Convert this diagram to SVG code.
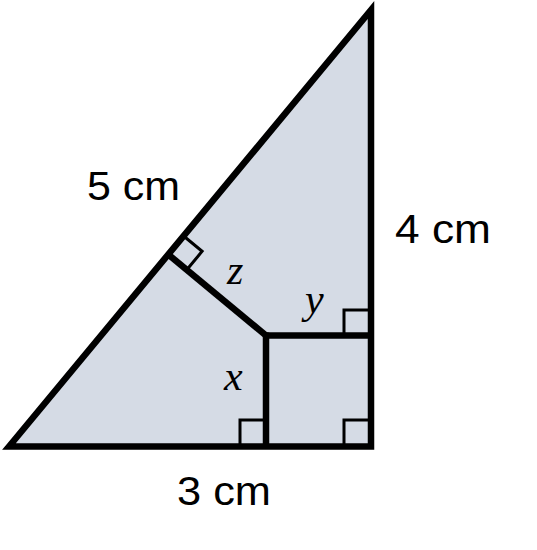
<svg xmlns="http://www.w3.org/2000/svg" width="537" height="550" viewBox="0 0 537 550">
<style>
.edge{fill:none;stroke:#000;stroke-width:6.5;stroke-linejoin:miter;stroke-miterlimit:10}
.tri{fill:#d5dbe5;stroke:#000;stroke-width:6.5;stroke-linejoin:miter;stroke-miterlimit:10}
.mark{fill:none;stroke:#000;stroke-width:3}
.lbl{font-family:"Liberation Sans",Arial,sans-serif;font-size:41px;fill:#000}
.var{font-family:"Liberation Serif","Times New Roman",serif;font-style:italic;font-size:42px;fill:#000}
</style>
<rect width="537" height="550" fill="#fff"/>
<g id="triangle">
<polygon points="9,446.5 371,10 371,446.5" class="tri"/>
</g>
<g id="connectors">
<line x1="266" y1="335.5" x2="371" y2="335.5" class="edge"/>
<line x1="266" y1="332.5" x2="266" y2="446.5" class="edge"/>
<line x1="168.3" y1="254.5" x2="266" y2="335.5" class="edge"/>
</g>
<g id="right-angles">
<polyline points="240,444 240,420 263,420" class="mark"/>
<polyline points="344,444 344,420 368,420" class="mark"/>
<polyline points="344,333 344,310 368,310" class="mark"/>
<polyline points="183.6,236 202.1,251.3 186.8,269.8" class="mark"/>
</g>
<g id="labels">
<text x="87" y="200" class="lbl" textLength="93" lengthAdjust="spacingAndGlyphs">5 cm</text>
<text x="395" y="243" class="lbl" textLength="96" lengthAdjust="spacingAndGlyphs">4 cm</text>
<text x="177" y="505" class="lbl" textLength="94" lengthAdjust="spacingAndGlyphs">3 cm</text>
<text x="227" y="283.5" class="var">z</text>
<text x="305" y="313" class="var">y</text>
<text x="224" y="390" class="var">x</text>
</g>
</svg>
